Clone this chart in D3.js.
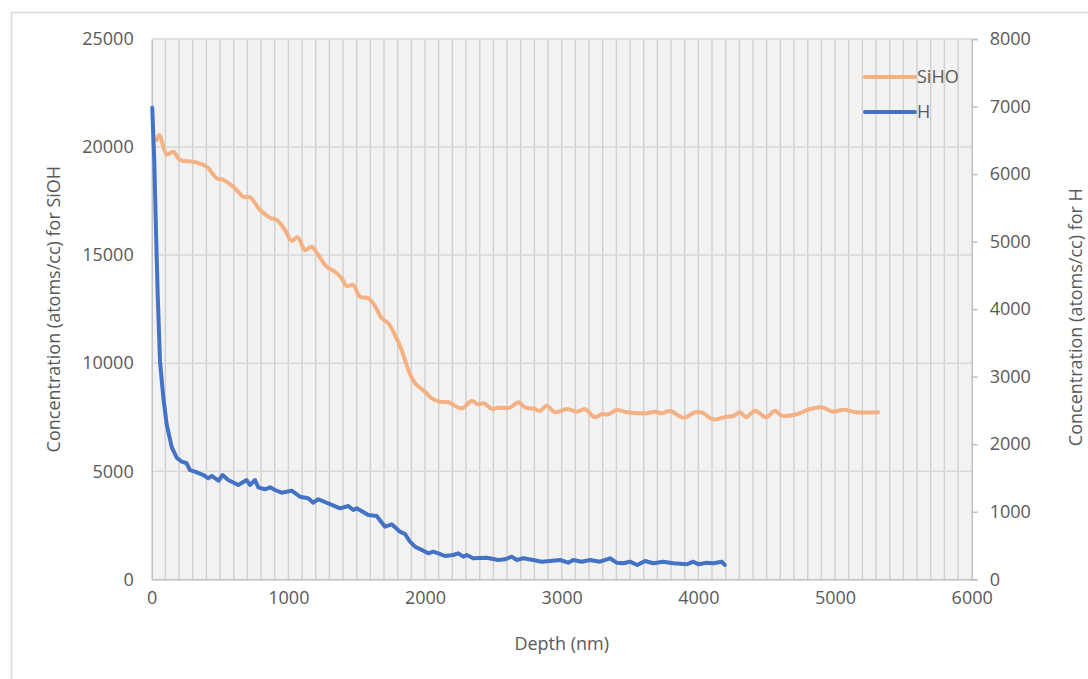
<!DOCTYPE html>
<html>
<head>
<meta charset="utf-8">
<script src="https://cdn.jsdelivr.net/npm/d3@7"></script>
<style>
  html, body { margin: 0; padding: 0; background: #ffffff; }
  svg { display: block; }
  text { font-family: "Open Sans", "Liberation Sans", sans-serif; fill: #595959; }
</style>
</head>
<body>
<svg id="chart" width="1088" height="679"></svg>
<script>
// SiHO depth profile: depth (nm) and concentration (left axis)
const sihoDepth = [37, 56, 110, 158, 207, 304, 402, 476, 524, 598, 671, 720, 793, 866, 915, 975,
  1024, 1068, 1122, 1171, 1219, 1280, 1341, 1390, 1427, 1475, 1524, 1585, 1634, 1683, 1731, 1780,
  1829, 1878, 1927, 2000, 2049, 2110, 2170, 2268, 2342, 2390, 2429, 2490, 2536, 2622, 2682, 2731,
  2804, 2841, 2890, 2951, 3037, 3110, 3170, 3244, 3293, 3341, 3402, 3476, 3573, 3622, 3683, 3732,
  3793, 3890, 3975, 4024, 4109, 4207, 4256, 4305, 4349, 4415, 4495, 4561, 4610, 4720, 4817, 4902,
  4987, 5060, 5158, 5316];
const sihoValue = [20326, 20558, 19665, 19785, 19402, 19322, 19091, 18554, 18475, 18165, 17703, 17675,
  17088, 16731, 16625, 16162, 15667, 15824, 15237, 15389, 15005, 14464, 14232, 13927, 13571, 13617,
  13076, 13002, 12645, 12076, 11845, 11304, 10610, 9685, 9070, 8680, 8374, 8217, 8190, 7912, 8250,
  8097, 8143, 7880, 7940, 7940, 8190, 7958, 7880, 7787, 8032, 7727, 7880, 7755, 7866, 7496, 7648,
  7634, 7834, 7727, 7681, 7681, 7755, 7681, 7787, 7477, 7727, 7727, 7403, 7523, 7556, 7727, 7496,
  7801, 7496, 7801, 7570, 7634, 7880, 7958, 7755, 7847, 7727, 7727];

// H depth profile: depth (nm) and concentration (right axis)
const hDepth = [4, 19, 31, 44, 61, 85, 110, 146, 183, 220, 256, 280, 317, 378, 414, 439, 488, 519,
  560, 634, 695, 719, 756, 780, 829, 866, 902, 951, 1024, 1085, 1146, 1182, 1219, 1292, 1378, 1439,
  1475, 1500, 1585, 1646, 1707, 1756, 1817, 1853, 1890, 1927, 1987, 2024, 2061, 2097, 2146, 2207,
  2243, 2280, 2305, 2353, 2451, 2536, 2585, 2634, 2671, 2719, 2792, 2854, 2914, 2988, 3048, 3085,
  3146, 3207, 3280, 3353, 3402, 3451, 3500, 3553, 3609, 3670, 3743, 3817, 3914, 3963, 4000, 4061,
  4109, 4171, 4193];
const hValue = [6983, 6183, 5197, 4210, 3222, 2690, 2290, 1960, 1800, 1741, 1718, 1618, 1593, 1544,
  1495, 1530, 1460, 1544, 1470, 1396, 1470, 1396, 1470, 1362, 1333, 1362, 1322, 1282, 1312, 1223,
  1199, 1134, 1185, 1125, 1051, 1085, 1026, 1051, 952, 937, 779, 814, 705, 671, 557, 483, 424, 385,
  409, 385, 345, 360, 385, 335, 360, 311, 320, 286, 296, 335, 286, 311, 286, 261, 271, 286, 246,
  286, 261, 286, 261, 311, 246, 237, 261, 212, 271, 237, 261, 237, 222, 261, 222, 246, 237, 261, 212];

// Axis ticks
const xTicks = [0, 1000, 2000, 3000, 4000, 5000, 6000];
const yLeftTicks = [0, 5000, 10000, 15000, 20000, 25000];
const yRightTicks = [0, 1000, 2000, 3000, 4000, 5000, 6000, 7000, 8000];
const seriesNames = ["SiHO", "H"];
const seriesColors = ["#F4B183", "#4472C4"];

const svg = d3.select("#chart");
const W = 1088, H = 679;
const plot = { left: 151.7, right: 971.7, top: 39, bottom: 579.3 };

// outer chart frame
svg.append("rect")
  .attr("x", 11.5).attr("y", 12.5).attr("width", W + 20).attr("height", H + 20)
  .attr("fill", "#ffffff").attr("stroke", "#d9d9d9").attr("stroke-width", 1.5);

const x = d3.scaleLinear().domain([0, 6000]).range([plot.left, plot.right]);
const yL = d3.scaleLinear().domain([0, 25000]).range([plot.bottom, plot.top]);
const yR = d3.scaleLinear().domain([0, 8000]).range([plot.bottom, plot.top]);

// plot background
svg.append("rect")
  .attr("x", plot.left).attr("y", plot.top)
  .attr("width", plot.right - plot.left).attr("height", plot.bottom - plot.top)
  .attr("fill", "#F2F2F2");

// vertical minor grid every 100 nm
const vGrid = d3.range(100, 6000, 100);
svg.append("g").selectAll("line").data(vGrid).join("line")
  .attr("x1", d => x(d)).attr("x2", d => x(d))
  .attr("y1", plot.top).attr("y2", plot.bottom)
  .attr("stroke", "#D0D0D0").attr("stroke-width", 1.4);

// horizontal grid on left-axis ticks
svg.append("g").selectAll("line").data(yLeftTicks.filter(d => d > 0)).join("line")
  .attr("x1", plot.left).attr("x2", plot.right)
  .attr("y1", d => yL(d)).attr("y2", d => yL(d))
  .attr("stroke", "#D9D9D9").attr("stroke-width", 1.5);

// bottom axis
const gx = svg.append("g").attr("transform", `translate(0,${plot.bottom})`)
  .call(d3.axisBottom(x).tickValues(xTicks).tickSize(0).tickPadding(12).tickFormat(d3.format("d")));
gx.select(".domain").attr("stroke", "#BFBFBF").attr("stroke-width", 1.5);
gx.selectAll("text").style("font-size", "18px").attr("fill", "#595959")
  .style("font-family", "'Open Sans', sans-serif");

// left axis
const gl = svg.append("g").attr("transform", `translate(${plot.left},0)`)
  .call(d3.axisLeft(yL).tickValues(yLeftTicks).tickSize(0).tickPadding(18).tickFormat(d3.format("d")));
gl.select(".domain").attr("stroke", "#BFBFBF").attr("stroke-width", 1.5);
gl.selectAll("text").style("font-size", "18px").attr("fill", "#595959")
  .style("font-family", "'Open Sans', sans-serif");

// right axis
const gr = svg.append("g").attr("transform", `translate(${plot.right},0)`)
  .call(d3.axisRight(yR).tickValues(yRightTicks).tickSize(6).tickPadding(12).tickFormat(d3.format("d")));
gr.select(".domain").attr("stroke", "#BFBFBF").attr("stroke-width", 1.5);
gr.selectAll(".tick line").attr("stroke", "#BFBFBF").attr("stroke-width", 1.5);
gr.selectAll("text").style("font-size", "18px").attr("fill", "#595959")
  .style("font-family", "'Open Sans', sans-serif");

// axis titles
svg.append("text").attr("x", (plot.left + plot.right) / 2).attr("y", 650)
  .attr("text-anchor", "middle").style("font-size", "18px").text("Depth (nm)");
svg.append("text")
  .attr("transform", `translate(60,${(plot.top + plot.bottom) / 2}) rotate(-90)`)
  .attr("text-anchor", "middle").style("font-size", "18px")
  .text("Concentration (atoms/cc) for SiOH");
svg.append("text")
  .attr("transform", `translate(1082,${(plot.top + plot.bottom) / 2 + 8}) rotate(-90)`)
  .attr("text-anchor", "middle").style("font-size", "18px")
  .text("Concentration (atoms/cc) for H");

// series lines
const sihoData = sihoDepth.map((d, i) => [d, sihoValue[i]]);
const hData = hDepth.map((d, i) => [d, hValue[i]]);

const lineL = d3.line().x(d => x(d[0])).y(d => yL(d[1])).curve(d3.curveCatmullRom.alpha(0.5));
const lineR = d3.line().x(d => x(d[0])).y(d => yR(d[1])).curve(d3.curveLinear);

svg.append("path").datum(sihoData).attr("d", lineL)
  .attr("fill", "none").attr("stroke", seriesColors[0]).attr("stroke-width", 4)
  .attr("stroke-linejoin", "round").attr("stroke-linecap", "round");
svg.append("path").datum(hData).attr("d", lineR)
  .attr("fill", "none").attr("stroke", seriesColors[1]).attr("stroke-width", 4)
  .attr("stroke-linejoin", "round").attr("stroke-linecap", "round");

// legend
const legend = svg.append("g").attr("transform", "translate(865,77)");
seriesNames.forEach((name, i) => {
  const g = legend.append("g").attr("transform", `translate(0,${i * 35})`);
  g.append("line").attr("x1", 0).attr("x2", 50).attr("y1", 0).attr("y2", 0)
    .attr("stroke", seriesColors[i]).attr("stroke-width", 4).attr("stroke-linecap", "round");
  g.append("text").attr("x", 52).attr("y", 0).attr("dy", "0.35em")
    .style("font-size", "18px").text(name);
});
</script>
</body>
</html>
